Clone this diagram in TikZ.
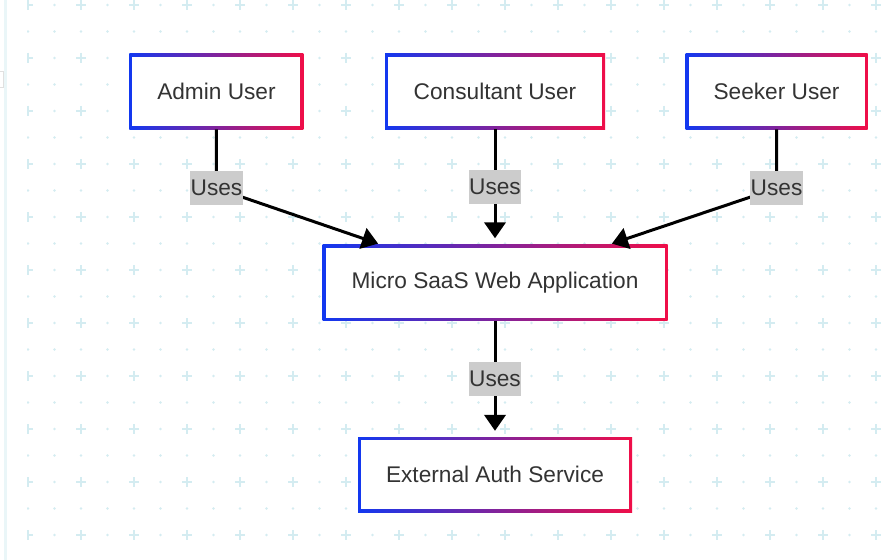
\documentclass[tikz,border=0pt]{standalone}
\usepackage{fontspec}
\setmainfont{Liberation Sans}
\usetikzlibrary{positioning,arrows.meta,calc}
\definecolor{gradblue}{RGB}{18,56,240}
\definecolor{gradred}{RGB}{240,14,72}
\definecolor{gridcyan}{RGB}{212,236,241}
\definecolor{labelgray}{RGB}{204,204,204}
\definecolor{textgray}{RGB}{51,51,51}
\tikzset{
  actor/.style={minimum height=56.25pt, inner sep=0pt, left color=gradblue, right color=gradred,
    text=textgray, font=\fontsize{17}{20}\selectfont,
    path picture={\fill[white] ([shift={(2.25pt,-2.25pt)}]path picture bounding box.north west)
      rectangle ([shift={(-2.25pt,2.25pt)}]path picture bounding box.south east);}},
  uses/.style={fill=labelgray, text=textgray, font=\fontsize{17}{20}\selectfont,
    minimum height=25.5pt, inner xsep=0.5pt, inner ysep=0pt},
  flow/.style={line width=2.25pt, -{Triangle[length=12pt,width=16pt]}}
}
\begin{document}
\begin{tikzpicture}[x=0.75pt, y=-0.75pt, node distance=86.25pt]
\useasboundingbox (0,0) rectangle (896,560);
\fill[white] (0,0) rectangle (896,560);
\draw[gridcyan!50, line width=2.25pt] (5,0) -- (5,560);
\draw[black!12, line width=0.75pt] (-2,72) rectangle (3,88);
\begin{scope}
\clip (27,0) rectangle (896,560);
\foreach \x in {28,54.5,...,900} \foreach \y in {5,31.5,...,565}
  \fill[gridcyan] (\x,\y) circle (1pt);
\foreach \x in {28,81,...,900} \foreach \y in {5,58,...,565}
  \draw[gridcyan, line width=1.5pt] (\x-5,\y) -- (\x+5,\y) (\x,\y-5) -- (\x,\y+5);
\end{scope}

\node[actor, minimum width=165pt] (consultant) at (495,91.5) {Consultant User};
\node[actor, minimum width=130.5pt] (admin) [left=60.75pt of consultant] {Admin User};
\node[actor, minimum width=136.5pt] (seeker) [right=60pt of consultant] {Seeker User};
\node[actor, minimum width=258.75pt, minimum height=57pt] (webapp) [below=of consultant] {Micro SaaS Web Application};
\node[actor, minimum width=205.5pt] (auth) [below=87pt of webapp] {External Auth Service};

\coordinate (adminbend) at ($(admin.south)+(0,59)$);
\coordinate (seekerbend) at ($(seeker.south)+(0,59)$);
\draw[flow, shorten >=1.5pt] (admin.south) -- (adminbend) node[uses] {Uses} -- ($(webapp.north)+(-115,0)$);
\draw[flow, shorten >=4.5pt] (consultant.south) -- node[uses] {Uses} (consultant.south |- webapp.north);
\draw[flow, shorten >=1.5pt] (seeker.south) -- (seekerbend) node[uses] {Uses} -- ($(webapp.north)+(115,0)$);
\draw[flow, shorten >=4.5pt] (webapp.south) -- node[uses] {Uses} (webapp.south |- auth.north);
\end{tikzpicture}
\end{document}
